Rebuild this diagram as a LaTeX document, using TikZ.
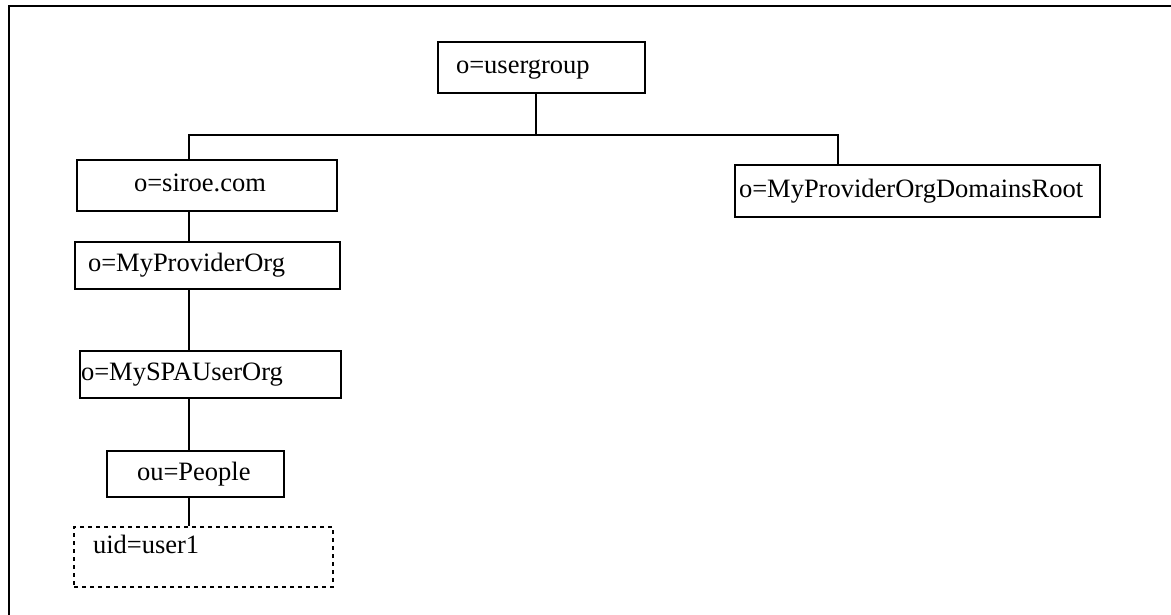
\documentclass[tikz,border=0pt]{standalone}
\usepackage{fontspec}
\setmainfont{Liberation Serif}
\usepackage{tikz}
\tikzstyle{entry}=[draw,line width=2pt,inner ysep=0pt,align=left,anchor=north west,text height=18pt,text depth=6pt,font=\fontsize{26.5}{31}\selectfont]
\tikzstyle{link}=[line width=2pt]

\begin{document}
\begin{tikzpicture}[x=1pt,y=-1pt]
          \useasboundingbox (0,0) rectangle (1171,615);
          \draw[line width=2.5pt] (9,616) -- (9,6) -- (1172,6);

          \node[entry,minimum height=51pt,text width=171pt,inner xsep=18pt] at (437, 41) (ug) {o=usergroup};
          \node[entry,minimum height=51pt,text width=146pt,inner xsep=57pt] at (76, 159) (siroe) {o=siroe.com};
          \node[entry,minimum height=52pt,text width=357pt,inner xsep=4pt] at (734, 164) (dom) {o=MyProviderOrgDomainsRoot};
          \node[entry,minimum height=47pt,text width=239pt,inner xsep=13pt] at (74, 241) (prov) {o=MyProviderOrg};
          \node[entry,minimum height=47pt,text width=259pt,inner xsep=1pt] at (79, 350) (spa) {o=MySPAUserOrg};
          \node[entry,minimum height=46pt,text width=117pt,inner xsep=30pt] at (106, 450) (people) {ou=People};
          \node[entry,dash pattern=on 4pt off 4pt,minimum height=60pt,text width=221pt,inner xsep=19pt,text depth=26pt] at (73, 526) (uid) {uid=user1};

          \coordinate (fork) at (536, 135);
          \coordinate (spine) at (189, 135);
          \coordinate (rbend) at (838, 135);

          \draw[link] (ug.south -| fork) -- (fork);
          \draw[link] (siroe.north -| spine) -- (spine) -- (rbend) -- (dom.north -| rbend);
          \draw[link] (siroe.south -| spine) -- (prov.north -| spine);
          \draw[link] (prov.south -| spine) -- (spa.north -| spine);
          \draw[link] (spa.south -| spine) -- (people.north -| spine);
          \draw[link] (people.south -| spine) -- (uid.north -| spine);
        \end{tikzpicture}
\end{document}
